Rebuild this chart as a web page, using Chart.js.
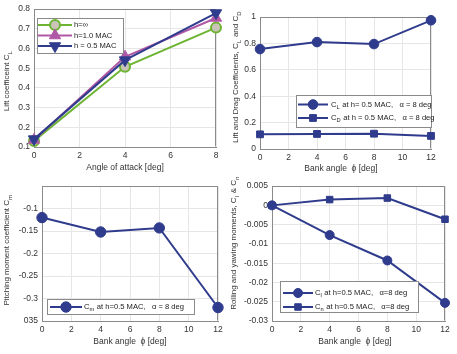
<!DOCTYPE html>
<html><head><meta charset="utf-8">
<script src="https://cdn.jsdelivr.net/npm/chart.js@4"></script>
<style>
html,body{margin:0;padding:0;background:#fff;}
body{width:457px;height:354px;position:relative;overflow:hidden;}
.p{position:absolute;}
canvas{display:block;}
</style></head><body>
<div class="p" style="left:0;top:0"><canvas id="c1" width="230" height="177"></canvas></div>
<div class="p" style="left:228px;top:0"><canvas id="c2" width="229" height="177"></canvas></div>
<div class="p" style="left:0;top:177px"><canvas id="c3" width="230" height="177"></canvas></div>
<div class="p" style="left:228px;top:177px"><canvas id="c4" width="229" height="177"></canvas></div>
<script>
// ---- data ----
const aoa = [0, 4, 8];
const clHinf = [0.131, 0.507, 0.706];
const clH10 = [0.136, 0.558, 0.755];
const clH05 = [0.14, 0.541, 0.78];

const bank = [0, 4, 8, 12];
const cLbank = [0.757, 0.81, 0.795, 0.975];
const cDbank = [0.111, 0.114, 0.116, 0.099];
const cmBank = [-0.12, -0.152, -0.143, -0.32];
const clRoll = [0, -0.0077, -0.0143, -0.0253];
const cnYaw = [0, 0.0015, 0.0019, -0.0036];

const legend1 = ['h=\u221e', 'h=1.0 MAC', 'h = 0.5 MAC'];

// ---- styles ----
const BLUE = '#2f3b8c', PURPLE = '#b058a6', GREEN = '#6db432', GFILL = '#c9c3b8';
const FONT = "'Liberation Sans', Arial, sans-serif";
Chart.defaults.font.family = FONT;
Chart.defaults.font.size = 8.5;
Chart.defaults.color = '#333';
const YT = 8, XT = 8.5, LG = 7.6;

function fmt(v){ return String(parseFloat(Number(v).toFixed(4))); }
function pts(xs, ys){ return xs.map((x,i)=>({x:x, y:ys[i]})); }

function drawRich(ctx, segs, x, y, size){
  let cx = x;
  for (const [t, sub] of segs){
    const fs = sub ? size*0.75 : size;
    ctx.font = fs + 'px ' + FONT;
    ctx.textBaseline = 'middle';
    ctx.textAlign = 'left';
    ctx.fillText(t, cx, sub ? y + size*0.38 : y);
    cx += ctx.measureText(t).width + (sub ? 0.5 : 0);
  }
  return cx - x;
}
function richWidth(ctx, segs, size){
  let w = 0;
  for (const [t, sub] of segs){
    ctx.font = (sub ? size*0.75 : size) + 'px ' + FONT;
    w += ctx.measureText(t).width + (sub ? 0.5 : 0);
  }
  return w;
}

const deco = {
  id: 'deco',
  beforeDatasetsDraw(chart, args, o){
    const a = chart.chartArea, ctx = chart.ctx;
    ctx.save();
    ctx.strokeStyle = '#8a8a8a'; ctx.lineWidth = 1;
    ctx.beginPath();
    ctx.moveTo(Math.round(a.left)+0.5, Math.round(a.top)+0.5);
    ctx.lineTo(Math.round(a.right)-0.5, Math.round(a.top)+0.5);
    ctx.lineTo(Math.round(a.right)-0.5, Math.round(a.bottom)-0.5);
    ctx.stroke();
    ctx.restore();
  },
  afterDraw(chart, args, o){
    const ctx = chart.ctx;
    ctx.save();
    ctx.fillStyle = '#333';
    ctx.font = XT + 'px ' + FONT; ctx.textAlign = 'center'; ctx.textBaseline = 'middle';
    ctx.fillText(o.xTitle, o.xPos[0], o.xPos[1]);
    ctx.save();
    ctx.translate(o.yPos[0], o.yPos[1]);
    ctx.rotate(-Math.PI/2);
    const w = richWidth(ctx, o.yTitle, YT);
    drawRich(ctx, o.yTitle, -w/2, 0, YT);
    ctx.restore();
    const L = o.legend;
    ctx.fillStyle = '#fff';
    ctx.fillRect(L.box[0], L.box[1], L.box[2], L.box[3]);
    ctx.strokeStyle = '#8a8a8a'; ctx.lineWidth = 1;
    ctx.strokeRect(L.box[0]+0.5, L.box[1]+0.5, L.box[2], L.box[3]);
    L.rows.forEach((r, i) => {
      const ds = chart.data.datasets[r.ds];
      ctx.strokeStyle = ds.borderColor; ctx.lineWidth = ds.borderWidth;
      ctx.beginPath(); ctx.moveTo(L.line[0], r.y); ctx.lineTo(L.line[1], r.y); ctx.stroke();
      ctx.fillStyle = ds.pointBackgroundColor; ctx.strokeStyle = ds.pointBorderColor;
      ctx.lineWidth = ds.pointBorderWidth;
      Chart.helpers.drawPoint(ctx, {pointStyle: ds.pointStyle, radius: ds.pointRadius,
        rotation: ds.pointRotation || 0, borderWidth: ds.pointBorderWidth}, (L.line[0]+L.line[1])/2, r.y);
      ctx.fillStyle = '#222';
      drawRich(ctx, r.segs, L.textX, r.y, LG);
    });
    ctx.restore();
  }
};

function ds(label, data, color, style, radius, opts){
  return Object.assign({
    label, data, borderColor: color, borderWidth: 2,
    pointStyle: style, pointRadius: radius, pointHoverRadius: radius,
    pointBackgroundColor: color, pointBorderColor: color, pointBorderWidth: 1,
    fill: false, tension: 0, clip: false
  }, opts || {});
}

function make(id, datasets, cfg){
  const gridC = '#e6e6e6';
  return new Chart(document.getElementById(id), {
    type: 'line',
    data: { datasets },
    options: {
      responsive: false, animation: false, events: [],
      layout: { padding: { left: 0, top: cfg.pad[0], right: cfg.pad[1], bottom: 0 } },
      plugins: { legend: { display: false }, tooltip: { enabled: false }, deco: cfg.deco },
      scales: {
        x: { type: 'linear', min: cfg.x[0], max: cfg.x[1],
             ticks: { stepSize: cfg.x[2], padding: 4, callback: v => fmt(v), maxRotation: 0, autoSkip: false },
             grid: { color: gridC, drawTicks: false },
             border: { display: true, color: '#8a8a8a' },
             afterFit(s){ s.height = cfg.xh; } },
        y: { type: 'linear', min: cfg.y[0], max: cfg.y[1],
             ticks: { stepSize: cfg.y[2], padding: 4, callback: cfg.ycb || (v => fmt(v)), autoSkip: false },
             grid: { color: gridC, drawTicks: false },
             border: { display: true, color: '#8a8a8a' },
             afterFit(s){ s.width = cfg.yw; } }
      }
    },
    plugins: [deco]
  });
}

// Panel 1
make('c1', [
  ds(legend1[0], pts(aoa, clHinf), GREEN, 'circle', 5, {pointBackgroundColor: GFILL, pointBorderWidth: 2, order: 2}),
  ds(legend1[1], pts(aoa, clH10), PURPLE, 'triangle', 6.5, {order: 1}),
  ds(legend1[2], pts(aoa, clH05), BLUE, 'triangle', 6.5, {pointRotation: 180, order: 0})
], {
  pad: [9, 14], yw: 34, xh: 30, x: [0, 8, 2], y: [0.1, 0.8, 0.1],
  deco: {
    xTitle: 'Angle of attack [deg]', xPos: [125, 168],
    yTitle: [['Lift coefficeint C', 0], ['L', 1]], yPos: [7, 81],
    legend: { box: [37, 18, 86, 35], line: [38, 72], textX: 74,
      rows: [ {ds: 0, y: 25, segs: [[legend1[0], 0]]},
              {ds: 1, y: 35.5, segs: [[legend1[1], 0]]},
              {ds: 2, y: 46, segs: [[legend1[2], 0]]} ] }
  }
});

// Panel 2
make('c2', [
  ds('CL', pts(bank, cLbank), BLUE, 'circle', 4.8),
  ds('CD', pts(bank, cDbank), BLUE, 'rect', 4.8)
], {
  pad: [17, 26], yw: 32, xh: 28, x: [0, 12, 2], y: [0, 1, 0.2],
  deco: {
    xTitle: 'Bank angle  \u03d5 [deg]', xPos: [113, 169],
    yTitle: [['Lift and Drag Coefficients, C', 0], ['L', 1], [' and C', 0], ['D', 1]], yPos: [8, 77],
    legend: { box: [68, 95, 135, 32], line: [70, 100], textX: 103,
      rows: [ {ds: 0, y: 104.5, segs: [['C', 0], ['L', 1], [' at h= 0.5 MAC,   \u03b1 = 8 deg', 0]]},
              {ds: 1, y: 118, segs: [['C', 0], ['D', 1], [' at h = 0.5 MAC,   \u03b1 = 8 deg', 0]]} ] }
  }
});

// Panel 3
make('c3', [
  ds('Cm', pts(bank, cmBank), BLUE, 'circle', 5.2)
], {
  pad: [3, 12], yw: 42, xh: 33, x: [0, 12, 2], y: [-0.35, -0.05, 0.05],
  ycb: v => (Math.abs(v + 0.35) < 1e-6 ? '035' : (Math.abs(v + 0.05) < 1e-6 ? '' : fmt(v))),
  deco: {
    xTitle: 'Bank angle  \u03d5 [deg]', xPos: [130, 165],
    yTitle: [['Pitching moment coefficient C', 0], ['m', 1]], yPos: [7, 73],
    legend: { box: [47, 122, 147, 15], line: [50, 82], textX: 84,
      rows: [ {ds: 0, y: 130, segs: [['C', 0], ['m', 1], [' at h=0.5 MAC,   \u03b1 = 8 deg', 0]]} ] }
  }
});

// Panel 4
make('c4', [
  ds('Cl', pts(bank, clRoll), BLUE, 'circle', 4.5),
  ds('Cn', pts(bank, cnYaw), BLUE, 'rect', 4.6)
], {
  pad: [5, 12], yw: 44, xh: 33, x: [0, 12, 2], y: [-0.03, 0.005, 0.005],
  deco: {
    xTitle: 'Bank angle  \u03d5 [deg]', xPos: [127, 165],
    yTitle: [['Rolling and yawing moments, C', 0], ['l', 1], [' & C', 0], ['n', 1]], yPos: [6, 66],
    legend: { box: [52, 104, 138, 31], line: [55, 85], textX: 87,
      rows: [ {ds: 0, y: 116, segs: [['C', 0], ['l', 1], [' at h=0.5 MAC,   \u03b1=8 deg', 0]]},
              {ds: 1, y: 130, segs: [['C', 0], ['n', 1], [' at h=0.5 MAC,   \u03b1=8 deg', 0]]} ] }
  }
});
</script>
</body></html>
